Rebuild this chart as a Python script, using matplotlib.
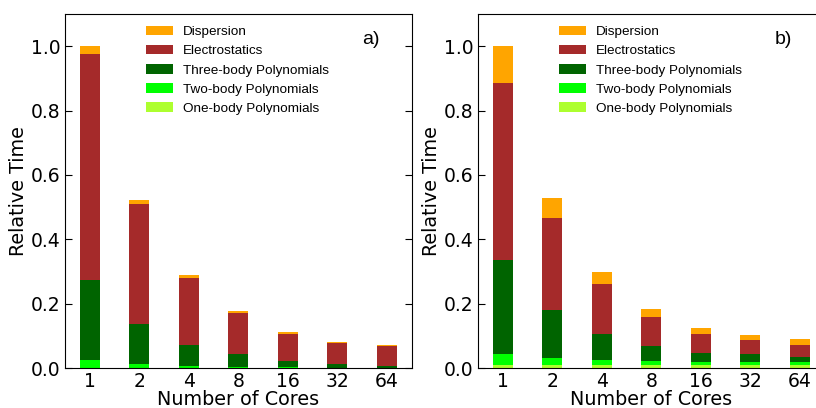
import numpy as np
import matplotlib
matplotlib.use("Agg")
import matplotlib.pyplot as plt

CORES = ["1", "2", "4", "8", "16", "32", "64"]
LABELS = ["One-body Polynomials", "Two-body Polynomials", "Three-body Polynomials",
          "Electrostatics", "Dispersion"]
COLORS = ["#adff2f", "#00ff00", "#006400", "#a52a2a", "#ffa500"]

# panel a) segment heights, bottom to top
a_one = [0.0, 0.0, 0.0, 0.0, 0.0, 0.0, 0.0]
a_two = [0.025, 0.012, 0.006, 0.003, 0.002, 0.001, 0.001]
a_three = [0.248, 0.126, 0.065, 0.041, 0.020, 0.011, 0.005]
a_elec = [0.702, 0.371, 0.209, 0.127, 0.084, 0.066, 0.062]
a_disp = [0.025, 0.013, 0.009, 0.006, 0.007, 0.004, 0.003]

# panel b)
b_one = [0.010, 0.010, 0.010, 0.010, 0.010, 0.010, 0.010]
b_two = [0.034, 0.021, 0.015, 0.012, 0.009, 0.009, 0.009]
b_three = [0.291, 0.149, 0.081, 0.046, 0.028, 0.025, 0.015]
b_elec = [0.550, 0.286, 0.155, 0.090, 0.059, 0.043, 0.037]
b_disp = [0.115, 0.062, 0.037, 0.025, 0.018, 0.016, 0.019]


def panel(ax, series, tag):
    x = np.arange(len(CORES))
    bottom = np.zeros(len(CORES))
    for vals, lab, col in zip(series, LABELS, COLORS):
        ax.bar(x, vals, 0.4, bottom=bottom, color=col, label=lab)
        bottom += np.array(vals)
    ax.set_xlim(-0.5, 6.5)
    ax.set_ylim(0, 1.1)
    ax.set_xticks(x)
    ax.set_xticklabels(CORES)
    ax.set_yticks(np.arange(0, 1.01, 0.2))
    ax.tick_params(axis="y", direction="in", right=True, labelsize=13.5, length=5)
    ax.tick_params(axis="x", length=0, labelsize=13.5, pad=3)
    ax.set_xlabel("Number of Cores", fontsize=13.8, labelpad=-1)
    ax.set_ylabel("Relative Time", fontsize=13.8, labelpad=2)
    h, l = ax.get_legend_handles_labels()
    ax.legend(h[::-1], l[::-1], loc="upper left", bbox_to_anchor=(0.218, 0.982),
              frameon=False, prop={"family": "Liberation Sans", "size": 9.7},
              labelspacing=0.5, handletextpad=0.75, borderaxespad=0)
    ax.text(0.857, 0.927, tag, transform=ax.transAxes, fontsize=14,
            family="Liberation Sans", ha="left", va="center")


fig = plt.figure(figsize=(8.16, 4.08), dpi=100)
ax0 = fig.add_axes([65 / 816, 40 / 408, 346.5 / 816, 354 / 408])
ax1 = fig.add_axes([478 / 816, 40 / 408, 346.5 / 816, 354 / 408])
panel(ax0, [a_one, a_two, a_three, a_elec, a_disp], "a)")
panel(ax1, [b_one, b_two, b_three, b_elec, b_disp], "b)")
fig.savefig("out.png", dpi=100)
